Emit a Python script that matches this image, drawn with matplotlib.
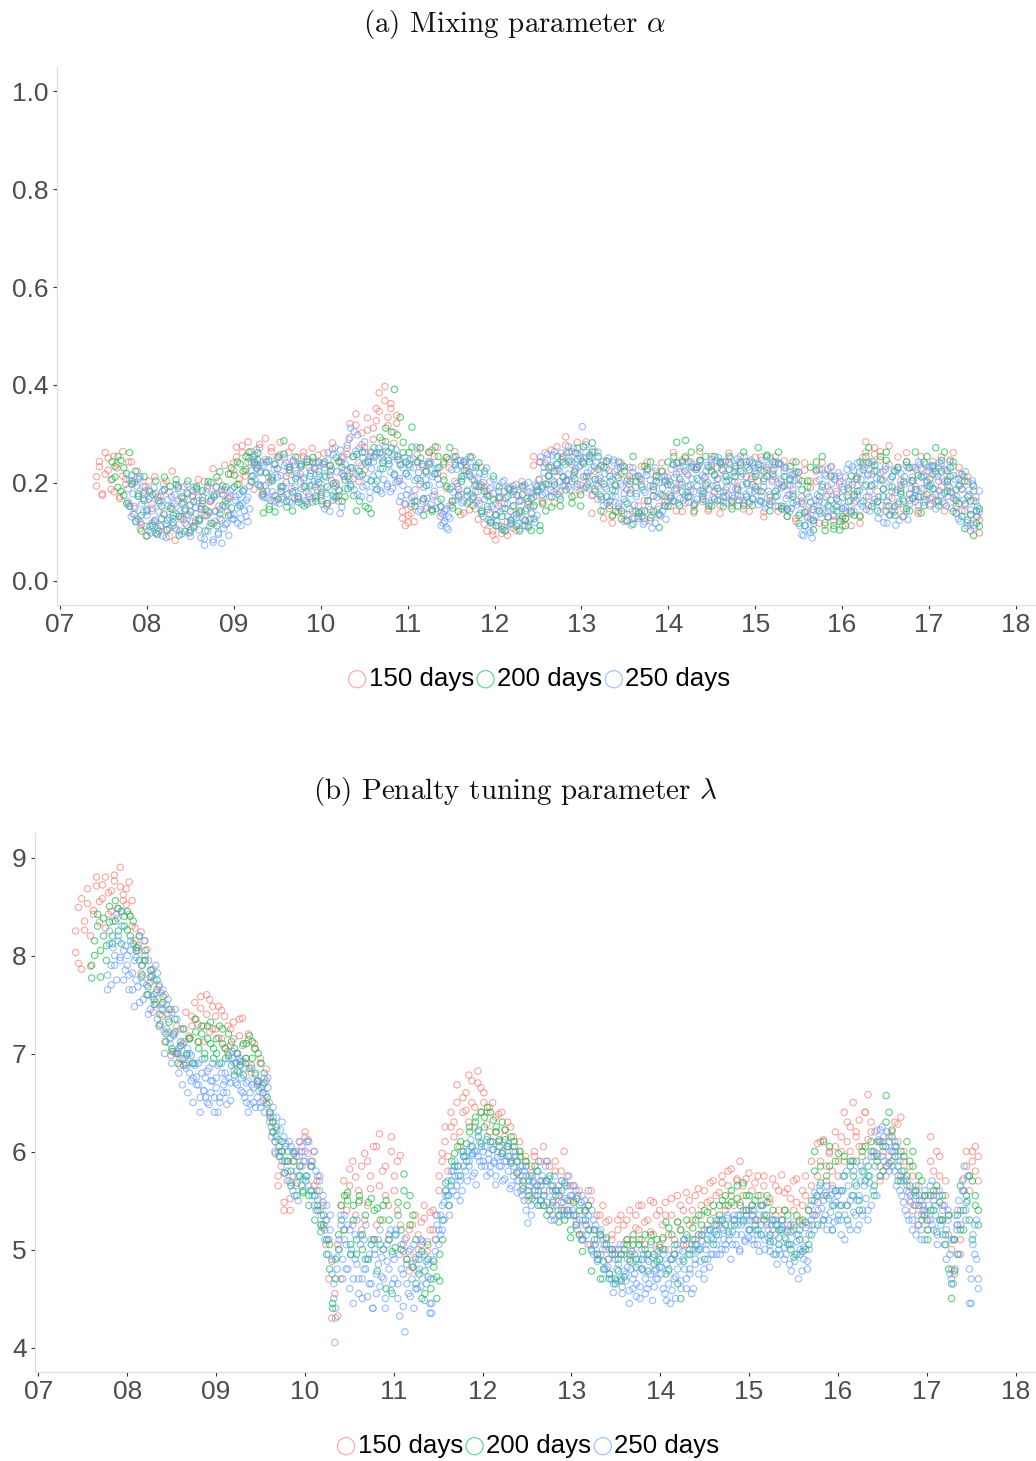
import numpy as np
import matplotlib
matplotlib.use('Agg')
import matplotlib.pyplot as plt

plt.rcParams['font.family'] = ['Liberation Sans', 'DejaVu Sans']
plt.rcParams['mathtext.fontset'] = 'cm'

W, H = 1036, 1461

year_labels = ['07', '08', '09', '10', '11', '12', '13', '14', '15', '16', '17', '18']
year_ticks = [2007 + i for i in range(12)]
window_names = ['150 days', '200 days', '250 days']
window_colors = ['#F8766D', '#00BA38', '#619CFF']
series_starts = [2007.42, 2007.60, 2007.78]
series_end = 2017.58

# mixing parameter, in thousandths, daily order
alpha_150 = [
    213, 244, 178, 262, 226, 187, 255, 231, 172, 264, 208, 243, 198, 152, 224, 121, 193,
    92, 204, 143, 213, 171, 112, 198, 104, 182, 224, 83, 163, 131, 192, 114, 155, 184, 123, 171, 146, 203, 134, 162, 117, 191, 153, 124, 186, 142, 173,
    241, 273, 208, 262, 224, 284, 203, 253, 231, 272, 183, 291, 212, 264, 174, 251, 283, 193, 242, 221, 273, 168, 252, 204, 263, 161, 232, 271, 192, 243,
    172, 261, 153, 234, 282, 194, 163, 252, 213, 271, 321, 224, 341, 203, 302, 273, 333, 254, 312, 352, 384, 287, 397, 334, 362, 303, 338, 204, 142, 113,
    134, 152, 121, 243, 272, 163, 224, 263, 146, 254, 273, 132, 214, 252, 231, 154, 264, 193, 135, 243, 224, 145, 253, 182, 164, 232, 191, 102, 173, 94,
    84, 153, 112, 183, 93, 142, 194, 103, 164, 203, 124, 181, 152, 254, 192, 243, 163, 262, 214, 231, 182, 274, 203, 253, 294, 192, 264, 221, 283, 184,
    243, 284, 212, 174, 263, 193, 234, 142, 245, 163, 132, 224, 153, 241, 122, 204, 232, 143, 213, 131, 234, 164, 243, 123, 192, 224, 152, 241, 173, 212,
    153, 262, 184, 223, 142, 254, 171, 243, 153, 232, 264, 162, 213, 143, 254, 182, 231, 154, 243, 172, 261, 153, 224, 192, 254, 164, 243, 142, 213, 252,
    204, 253, 131, 232, 163, 224, 254, 142, 203, 245, 132, 194, 243, 122, 221, 172, 241, 143, 204, 123, 224, 163, 242, 114, 193, 232, 132, 183, 214, 112,
    143, 204, 113, 172, 213, 134, 252, 284, 173, 243, 272, 162, 264, 224, 153, 276, 183, 142, 253, 204, 132, 262, 164, 232, 193, 143, 254, 172, 224, 153,
    244, 163, 204, 253, 143, 224, 182, 262, 152, 232, 204, 143, 213, 102, 184, 132, 98]

alpha_150_extra = [
    194, 233, 175, 218, 251, 206, 182, 239, 168, 214, 197, 158, 243, 136, 209, 107, 178,
    112, 186, 157, 121, 96, 173, 138, 204, 91, 147, 108, 192, 126, 168, 135, 98, 175, 118, 207, 152, 134, 188, 163, 229, 143, 204, 178, 236, 168, 218,
    226, 253, 198, 276, 214, 243, 264, 187, 236, 279, 176, 248, 201, 272, 164, 229, 258, 172, 214, 263, 189, 237, 167, 218, 254, 182, 243, 169, 228, 257,
    189, 238, 158, 216, 269, 201, 174, 243, 226, 259, 293, 209, 318, 241, 278, 226, 308, 263, 289, 327, 346, 259, 368, 317, 352, 281, 322, 247, 128, 156,
    119, 138, 173, 258, 197, 233, 148, 241, 267, 176, 219, 151, 238, 189, 248, 163, 203, 246, 177, 139, 231, 162, 208, 147, 126, 197, 116, 184, 138, 102,
    136, 168, 97, 158, 121, 187, 108, 176, 139, 192, 113, 157, 128, 236, 174, 208, 157, 241, 196, 267, 159, 224, 182, 253, 277, 206, 238, 174, 261, 196,
    212, 253, 189, 138, 224, 167, 203, 128, 231, 148, 118, 197, 141, 218, 137, 186, 214, 127, 191, 153, 207, 128, 229, 146, 174, 213, 134, 223, 161, 196,
    168, 237, 143, 198, 247, 159, 216, 186, 139, 228, 246, 172, 194, 147, 233, 168, 208, 138, 226, 186, 243, 161, 202, 174, 236, 147, 213, 158, 197, 231,
    184, 226, 141, 214, 176, 207, 238, 152, 189, 231, 147, 176, 218, 128, 207, 158, 226, 132, 191, 146, 203, 118, 227, 138, 176, 216, 122, 167, 198, 128,
    127, 182, 138, 159, 194, 118, 236, 263, 154, 218, 259, 183, 247, 206, 142, 238, 169, 153, 231, 189, 147, 243, 178, 212, 162, 138, 229, 187, 204, 168,
    218, 177, 231, 192, 158, 206, 247, 169, 138, 219, 187, 156, 203, 117, 164, 143, 124]

alpha_200 = [
    243, 212, 254, 183, 231, 158, 262, 204, 224, 173, 134, 213,
    92, 182, 113, 204, 102, 153, 212, 124, 193, 134, 207, 93, 172, 143, 204, 104, 162, 193, 123, 184, 102, 142, 201, 172, 113, 223, 154, 192, 134, 231,
    192, 243, 153, 224, 254, 263, 214, 242, 261, 223, 139, 243, 152, 212, 141, 254, 183, 286, 162, 232, 143, 253, 172, 234, 153, 243, 194, 252, 163, 224,
    164, 243, 192, 224, 173, 252, 184, 232, 172, 213, 193, 254, 143, 224, 263, 152, 243, 138, 272, 204, 293, 242, 312, 263, 304, 391, 254, 334, 283, 243,
    262, 314, 163, 243, 272, 134, 224, 263, 142, 274, 254, 152, 243, 193, 272, 163, 254, 142, 213, 243, 183, 254, 154, 232, 193, 142, 224, 173, 123, 214,
    113, 192, 132, 102, 173, 124, 183, 112, 143, 194, 123, 162, 103, 154, 183, 113, 194, 143, 232, 172, 224, 254, 153, 243, 204, 263, 172, 224, 271, 153,
    274, 213, 243, 282, 183, 254, 143, 232, 172, 213, 134, 194, 243, 143, 224, 123, 204, 254, 142, 213, 132, 234, 163, 243, 142, 204, 109, 224, 153, 243,
    172, 254, 283, 154, 243, 287, 193, 263, 143, 232, 272, 183, 254, 153, 224, 254, 164, 243, 152, 213, 254, 163, 234, 153, 224, 263, 172, 243, 154, 213,
    272, 163, 224, 254, 143, 243, 183, 263, 153, 213, 132, 234, 172, 243, 134, 204, 113, 193, 232, 124, 243, 172, 254, 103, 154, 213, 113, 143, 104, 132,
    113, 162, 214, 134, 183, 243, 163, 254, 272, 194, 224, 143, 254, 172, 263, 153, 213, 134, 232, 183, 163, 243, 143, 204, 263, 172, 213, 154, 254, 193,
    234, 272, 153, 224, 263, 183, 213, 243, 164, 194, 132, 204, 124, 163, 93, 143, 112]

alpha_200_extra = [
    208, 234, 191, 246, 175, 219, 152, 198, 121, 178, 102, 164,
    143, 112, 176, 98, 164, 127, 186, 105, 148, 119, 197, 132, 158, 101, 178, 141, 112, 189, 127, 164, 146, 203, 118, 176, 212, 137, 194, 163, 218, 149,
    216, 197, 239, 184, 228, 251, 202, 237, 248, 193, 178, 221, 146, 204, 238, 167, 193, 259, 151, 227, 182, 209, 161, 238, 192, 157, 214, 243, 173, 201,
    181, 214, 158, 236, 199, 172, 243, 163, 206, 188, 231, 174, 258, 163, 217, 241, 148, 205, 253, 187, 262, 229, 284, 246, 271, 218, 298, 237, 262, 219,
    238, 273, 153, 209, 251, 168, 195, 238, 146, 219, 231, 167, 206, 252, 188, 149, 237, 175, 203, 226, 159, 214, 172, 196, 241, 138, 183, 152, 119, 166,
    134, 171, 105, 148, 189, 118, 154, 137, 102, 176, 143, 112, 168, 127, 186, 103, 159, 198, 214, 151, 196, 238, 167, 213, 186, 243, 159, 208, 249, 176,
    239, 192, 256, 263, 207, 228, 172, 198, 244, 154, 186, 142, 211, 127, 233, 158, 179, 116, 204, 139, 192, 143, 228, 129, 186, 215, 137, 174, 203, 152,
    196, 163, 241, 208, 182, 251, 172, 233, 156, 209, 246, 167, 198, 232, 153, 217, 189, 241, 172, 203, 228, 147, 213, 186, 241, 154, 199, 227, 168, 192,
    238, 183, 209, 257, 156, 218, 172, 239, 148, 194, 146, 206, 159, 223, 118, 186, 139, 204, 161, 104, 227, 143, 192, 119, 131, 165, 106, 152, 122, 171,
    128, 189, 143, 176, 208, 131, 227, 196, 241, 152, 236, 162, 208, 188, 246, 135, 192, 224, 157, 178, 203, 148, 231, 169, 187, 216, 139, 242, 176, 208,
    188, 224, 162, 246, 179, 203, 231, 142, 186, 158, 218, 107, 172, 135, 194, 118, 147]

alpha_250 = [
    188, 154, 216, 137, 201, 122, 173, 209, 115, 168, 192,
    146, 103, 172, 118, 191, 125, 95, 158, 112, 183, 135, 89, 166, 108, 152,
    128, 176, 104, 189, 143, 96, 161, 118, 197, 135, 91, 172, 109, 149, 186,
    124, 88, 157, 73, 181, 102, 139, 168, 84, 121, 192, 98, 146, 77, 175, 115, 158, 93, 184, 127,
    135, 172, 118, 156, 128, 182, 143, 165, 121, 194, 225, 248, 208, 268, 236,
    196, 242, 171, 221, 183, 247, 165, 208, 238, 174, 229, 158, 215, 192, 251, 176, 232, 162, 205, 246, 184, 219, 168, 238, 157, 211, 193, 248, 172, 225, 161, 203, 241, 185, 216,
    176, 239, 147, 212, 262, 186, 228, 165, 272, 198, 245, 138, 219, 253, 189,
    277, 208, 312, 231, 186, 265, 298, 213, 172, 251, 284, 195, 243, 168, 262,
    214, 258, 187, 271, 229, 179, 246, 265, 198, 237, 182, 254, 216, 268, 204, 162, 238, 195, 252, 176,
    214, 247, 158, 231, 186, 273, 142, 205, 238, 167, 222, 151, 196, 241, 173, 218, 148, 208, 232, 113, 136, 121, 147, 105, 128,
    192, 252, 165, 228, 187, 246, 159, 215, 238, 174, 223, 251, 168, 205, 236, 182, 219, 143, 201, 167, 231, 125, 188, 152, 208,
    136, 194, 112, 171, 148, 205, 103, 158, 186, 124, 176, 133, 197, 118, 162,
    142, 189, 113, 168, 201, 125, 178, 151, 196, 134,
    182, 243, 176, 221, 197, 258, 172, 235, 205, 264, 188, 229, 173, 248, 211, 194, 262, 218, 247, 203, 271, 229, 192, 256, 236,
    315, 214, 278, 197, 249, 226, 268, 188, 241, 207, 176, 236, 154, 219, 188, 251, 163, 207, 242, 172, 228, 149, 198, 235, 167,
    123, 208, 147, 186, 231, 128, 172, 215, 139, 197, 116, 181, 224, 152, 206, 134, 193, 118, 171, 212, 133, 189, 154, 206, 162,
    176, 228, 163, 211, 189, 241, 168, 202, 234, 175, 219, 161, 196, 238, 182, 227, 167, 205, 243, 178,
    211, 163, 236, 187, 248, 172, 215, 195, 252, 166, 228, 181, 243, 159, 206, 237, 174, 221, 188, 249, 165, 213, 196, 254, 177, 232, 162, 208, 241, 183,
    219, 156, 237, 172, 204, 149, 228, 183, 251, 162, 213, 243, 174, 198, 238, 146, 224, 168, 197, 141, 216, 178, 205, 155, 222,
    112, 163, 92, 141, 178, 104, 126, 88, 152, 132, 176, 228, 138, 197, 159, 215, 131, 184, 234, 146, 207, 168, 221, 127, 192,
    148, 212, 174, 238, 141, 196, 226, 163, 241, 184, 207, 152, 232, 171, 218, 143, 196, 244, 167, 209,
    128, 221, 154, 187, 234, 118, 172, 208, 143, 226, 114, 186, 162, 219, 131, 198, 236, 125, 177, 205,
    168, 231, 186, 243, 172, 211, 161, 238, 194, 224,
    157, 236, 188, 219, 164, 242, 175, 208, 228, 153, 196, 244, 181, 215, 167,
    138, 209, 122, 188, 165, 223, 112, 176, 145, 198, 108, 162, 131, 184]

alpha_250_extra = [
    162, 205, 131, 178, 148, 194, 126, 213, 157, 141, 184,
    134, 167, 98, 148, 122, 178, 107, 141, 163, 92, 187, 116, 153, 129, 172, 113, 158, 137, 194, 102, 169, 126, 147, 181, 99, 155, 121, 192, 138, 164,
    104, 148, 171, 86, 133, 195, 112, 164, 79, 142, 176, 95, 128, 186, 107, 152, 118, 169, 135, 188,
    126, 164, 149, 177, 113, 159, 187, 132, 171, 147, 242, 214, 256, 229, 197, 221, 174, 237, 195, 169, 244, 206, 182, 228, 161, 212, 253, 189, 167, 235,
    201, 178, 226, 159, 243, 192, 214, 172, 233, 188, 207, 164, 249, 178, 219, 196, 231, 169, 208, 242,
    198, 156, 231, 178, 247, 142, 205, 258, 169, 223, 186, 267, 151, 214, 238, 226, 289, 197, 254, 305, 218, 176, 271, 235, 192, 263, 209, 247, 181, 229,
    243, 197, 262, 218, 184, 251, 207, 274, 193, 239, 222, 189, 258, 201, 247, 209, 173, 231, 158, 219,
    186, 233, 171, 249, 205, 162, 221, 146, 238, 191, 207, 169, 244, 156, 213, 183, 229, 162, 197, 139, 118, 143, 109, 132, 154,
    227, 181, 243, 199, 172, 236, 208, 163, 247, 186, 218, 177, 232, 195, 161, 211, 158, 194, 132, 218, 176, 146, 203, 119, 179,
    158, 121, 183, 141, 201, 109, 169, 132, 192, 115, 152, 187, 128, 174, 106, 165, 127, 196, 148, 109, 182, 137, 171, 119, 193,
    206, 253, 191, 232, 179, 247, 216, 186, 257, 202, 238, 177, 224, 261, 195, 238, 207, 274, 186, 243, 215, 261, 198, 232, 251,
    243, 189, 262, 221, 204, 252, 176, 233, 198, 263, 211, 167, 244, 192, 159, 226, 203, 172, 247, 184, 215, 158, 232, 193, 178,
    162, 136, 198, 114, 221, 155, 178, 127, 209, 143, 186, 121, 216, 164, 194, 108, 173, 231, 146, 201, 177, 142, 214, 126, 197,
    203, 172, 239, 186, 218, 159, 231, 197, 165, 224, 181, 243, 172, 208, 231, 159, 194, 236, 185, 216,
    179, 224, 201, 158, 239, 194, 167, 246, 209, 183, 237, 161, 218, 192, 176, 251, 204, 169, 229, 187, 243, 172, 219, 158, 236, 198, 183, 247, 167, 224,
    187, 231, 163, 246, 192, 158, 214, 237, 171, 203, 227, 153, 189, 241, 208, 193, 152, 231, 175, 209, 148, 186, 219, 163, 198,
    138, 95, 157, 113, 129, 171, 99, 146, 118, 165, 154, 206, 183, 143, 219, 172, 229, 151, 198, 136, 214, 177, 162, 203, 148,
    186, 151, 228, 197, 164, 233, 142, 209, 176, 222, 158, 241, 193, 146, 215, 182, 237, 159, 198, 225,
    171, 139, 205, 119, 228, 163, 192, 134, 213, 151, 181, 227, 124, 196, 168, 213, 142, 231, 157, 189, 205, 173, 226, 154, 238, 189, 214, 166, 201, 232,
    198, 171, 229, 147, 213, 184, 239, 162, 203, 226, 173, 191, 149, 234, 207, 172, 127, 196, 143, 213, 158, 119, 185, 136, 204, 114, 171, 152, 141]

# penalty tuning parameter, in hundredths, daily order
lambda_150 = [
    803, 849, 786, 826, 853, 789, 842, 871, 834, 858, 880, 842, 866, 876, 848, 890, 862,
    868, 842, 856, 828, 810, 824, 795, 806, 772, 786, 752, 768, 738, 760, 722, 745, 702, 728, 688, 710, 690, 715, 728, 735, 712, 746, 728, 760, 722, 748,
    738, 716, 744, 706, 728, 708, 732, 700, 718, 736, 690, 714, 680, 705, 672, 695, 660, 684, 650, 630, 610, 575, 600, 548, 590, 540, 575, 600, 610, 585,
    620, 612, 590, 600, 570, 575, 548, 530, 510, 488, 405, 432, 470, 520, 555, 582, 525, 574, 548, 585, 530, 590, 562, 605, 525, 618, 580, 555, 510, 600,
    575, 540, 596, 505, 490, 520, 482, 535, 500, 528, 545, 508, 538, 520, 535, 560, 590, 610, 595, 625, 615, 650, 605, 640, 660, 630, 672, 645, 682, 665,
    660, 640, 620, 650, 635, 610, 640, 622, 605, 625, 615, 590, 600, 575, 595, 560, 585, 600, 565, 590, 605, 570, 585, 545, 590, 555, 580, 540, 575, 550,
    565, 535, 515, 555, 525, 545, 560, 505, 535, 515, 545, 500, 530, 510, 495, 520, 535, 505, 530, 490, 510, 535, 520, 545, 505, 530, 550, 515, 535, 505,
    525, 548, 500, 535, 510, 555, 520, 540, 505, 550, 530, 555, 515, 545, 560, 525, 550, 570, 530, 558, 575, 540, 565, 582, 545, 570, 590, 555, 572, 540,
    560, 530, 575, 545, 565, 528, 552, 572, 535, 560, 576, 540, 562, 525, 570, 548, 530, 560, 575, 540, 565, 535, 608, 590, 612, 570, 598, 580, 620, 590,
    600, 640, 610, 625, 590, 615, 632, 605, 640, 658, 630, 600, 622, 585, 610, 575, 595, 620, 600, 628, 635, 590, 570, 550, 575, 545, 565, 535, 555, 530,
    615, 580, 560, 595, 545, 570, 535, 500, 475, 525, 510, 572, 600, 560, 590, 605, 570]

lambda_150_extra = [
    825, 792, 858, 835, 868, 820, 846, 880, 855, 872, 828, 864, 845, 882, 838, 870, 856,
    852, 875, 830, 815, 805, 782, 815, 760, 778, 742, 762, 728, 750, 712, 740, 698, 720, 700, 695, 725, 742, 718, 738, 752, 730, 758, 712, 740, 755, 725,
    725, 748, 715, 738, 702, 725, 715, 690, 735, 708, 695, 720, 688, 710, 668, 690, 652, 672, 638, 620, 598, 565, 585, 540, 570, 552, 590, 565, 595, 605,
    615, 598, 585, 565, 560, 540, 522, 505, 470, 430, 455, 505, 545, 570, 540, 565, 590, 535, 560, 520, 598, 545, 575, 510, 605, 565, 530, 585, 545, 615,
    560, 590, 525, 498, 512, 478, 525, 492, 515, 505, 532, 498, 520, 540, 510, 575, 598, 625, 580, 640, 630, 668, 620, 655, 642, 678, 650, 625, 670, 640,
    650, 628, 645, 610, 620, 638, 598, 615, 630, 590, 600, 578, 610, 565, 590, 550, 578, 595, 555, 570, 545, 590, 560, 535, 580, 565, 548, 600, 540, 565,
    550, 528, 560, 515, 540, 505, 550, 520, 495, 535, 510, 528, 490, 515, 500, 530, 495, 525, 510, 540, 498, 522, 545, 510, 528, 495, 518, 548, 500, 540,
    510, 535, 515, 552, 495, 528, 545, 505, 558, 525, 540, 510, 562, 535, 520, 548, 568, 538, 555, 525, 568, 545, 580, 555, 530, 572, 548, 565, 540, 578,
    545, 568, 530, 555, 575, 535, 548, 520, 565, 540, 530, 558, 520, 552, 540, 572, 528, 545, 555, 525, 590, 550, 575, 610, 555, 585, 600, 565, 605, 575,
    615, 590, 630, 600, 650, 620, 605, 595, 640, 612, 620, 595, 610, 570, 600, 585, 615, 590, 630, 610, 575, 600, 560, 585, 540, 560, 525, 550, 540, 520,
    590, 555, 600, 575, 530, 555, 515, 480, 510, 540, 495, 560, 585, 575, 600, 580, 595]

lambda_200 = [
    777, 800, 842, 778, 820, 795, 834, 812, 856, 825, 845, 830,
    826, 840, 812, 805, 820, 790, 795, 768, 785, 755, 775, 740, 752, 720, 745, 705, 735, 690, 712, 688, 700, 715, 690, 722, 705, 728, 695, 715, 732, 705,
    700, 728, 710, 695, 720, 688, 705, 682, 692, 678, 710, 718, 695, 705, 672, 690, 670, 655, 640, 630, 625, 605, 610, 590, 600, 580, 590, 568, 585, 560,
    570, 545, 585, 555, 540, 525, 535, 510, 505, 445, 470, 500, 530, 555, 558, 495, 545, 510, 550, 500, 535, 490, 552, 510, 542, 505, 545, 460, 530, 498,
    502, 548, 520, 577, 490, 555, 535, 510, 475, 498, 455, 490, 470, 488, 450, 468, 510, 560, 545, 570, 585, 605, 575, 600, 590, 620, 605, 630, 615, 640,
    625, 645, 610, 632, 620, 605, 630, 612, 595, 615, 605, 590, 600, 570, 585, 555, 575, 560, 580, 550, 545, 570, 540, 565, 555, 535, 560, 530, 550, 520,
    548, 525, 540, 510, 530, 545, 500, 520, 490, 515, 480, 505, 470, 495, 470, 490, 468, 500, 510, 495, 515, 490, 505, 480, 515, 495, 508, 485, 510, 490,
    500, 528, 480, 515, 495, 528, 450, 510, 530, 500, 522, 505, 535, 515, 540, 510, 530, 545, 515, 535, 550, 525, 545, 560, 530, 552, 535, 568, 540, 555,
    535, 550, 520, 545, 530, 555, 515, 540, 525, 505, 530, 512, 535, 500, 525, 495, 520, 530, 500, 540, 515, 600, 555, 585, 530, 575, 605, 545, 590, 535,
    560, 595, 545, 585, 575, 590, 550, 580, 605, 575, 600, 565, 590, 610, 580, 657, 640, 622, 605, 585, 570, 595, 575, 590, 600, 560, 575, 530, 555, 520,
    555, 540, 565, 530, 555, 515, 535, 450, 478, 495, 520, 540, 555, 530, 570, 545, 525]

lambda_200_extra = [
    790, 815, 830, 805, 838, 810, 850, 820, 835, 848, 812, 840,
    845, 820, 835, 808, 795, 780, 805, 760, 778, 750, 765, 730, 758, 712, 732, 702, 722, 700, 708, 725, 698, 716, 690, 735, 712, 720, 700, 728, 710, 695,
    715, 690, 725, 705, 698, 712, 678, 700, 688, 710, 695, 685, 712, 680, 700, 665, 680, 648, 635, 620, 615, 595, 600, 578, 590, 565, 598, 555, 575, 558,
    575, 555, 560, 530, 545, 518, 525, 495, 480, 440, 490, 515, 545, 520, 550, 505, 530, 495, 555, 515, 490, 548, 505, 540, 478, 530, 500, 550, 510, 455,
    515, 535, 500, 560, 545, 525, 482, 465, 490, 450, 478, 505, 460, 482, 472, 495, 530, 568, 555, 590, 598, 585, 610, 595, 608, 625, 598, 635, 622, 608,
    635, 615, 640, 602, 625, 612, 598, 622, 605, 588, 610, 578, 595, 562, 590, 570, 552, 585, 545, 565, 555, 535, 575, 548, 560, 528, 540, 568, 535, 512,
    535, 552, 515, 498, 540, 520, 478, 510, 495, 470, 488, 512, 475, 500, 465, 478, 495, 472, 505, 488, 505, 482, 510, 490, 500, 478, 515, 495, 488, 502,
    512, 475, 522, 490, 505, 465, 520, 488, 515, 495, 510, 530, 500, 525, 490, 538, 520, 505, 525, 545, 530, 555, 518, 548, 525, 565, 545, 530, 555, 520,
    545, 525, 555, 515, 535, 548, 508, 530, 495, 520, 520, 540, 505, 518, 492, 535, 510, 498, 528, 505, 550, 580, 525, 568, 610, 555, 585, 520, 560, 598,
    545, 575, 530, 590, 555, 565, 540, 600, 570, 585, 610, 555, 595, 575, 605, 630, 588, 615, 595, 570, 600, 580, 610, 565, 585, 555, 545, 570, 535, 510,
    540, 560, 518, 548, 530, 505, 480, 465, 510, 535, 565, 520, 548, 575, 510, 555, 540]

lambda_250 = [
    765, 812, 790, 835, 800, 775, 820, 795, 845, 805, 785,
    800, 780, 815, 765, 795, 775, 808, 752, 790, 772, 815, 760, 795, 745, 780, 760, 790, 735, 770, 745,
    765, 722, 750, 735, 710, 742, 720, 700, 735, 705, 725, 695, 712, 688, 705, 680, 698, 675, 690, 668,
    690, 655, 680, 662, 675, 650, 685, 660, 672, 655,
    665, 688, 650, 680, 660, 672, 648, 695, 670, 702, 682, 690, 668, 695, 675, 660, 685, 650, 672, 648,
    668, 650, 678, 655, 670, 645, 660, 675, 650, 665, 640, 625, 645, 610, 635, 600, 622, 590, 615, 605,
    580, 610, 568, 600, 555, 595, 575, 610, 565, 590,
    600, 575, 610, 560, 590, 545, 580, 550, 570, 535, 555, 520, 545, 510, 535, 490, 465, 440, 480, 500,
    525, 490, 535, 505, 480, 520, 495, 470, 515, 485, 455, 505, 470, 510, 480, 452, 495, 465, 440, 500,
    475, 510, 462, 492, 470, 450, 505, 480, 520, 465,
    490, 515, 465, 432, 505, 475, 416, 485, 455, 500, 470, 440, 490, 460, 480, 510, 470, 495, 465, 485,
    435, 445, 490, 510, 525, 505, 535, 520, 548, 555, 570, 545, 580, 560, 590, 565, 575, 550, 600, 585,
    595, 570, 590, 605, 575, 600, 566, 595, 610, 585,
    590, 605, 575, 598, 585, 610, 590, 575, 600, 585, 595, 570, 590, 605, 580, 595, 565, 585, 595, 570,
    580, 560, 585, 550, 575, 527, 565, 545, 570, 555, 580, 560, 545, 575, 555, 570, 590, 540, 565, 550,
    530, 560, 540, 555, 570, 535, 552, 565, 540, 555,
    555, 535, 560, 520, 545, 510, 530, 550, 515, 535, 505, 540, 495, 525, 510, 490, 520, 500, 480, 510,
    490, 475, 500, 465, 490, 480, 500, 470, 455, 495, 475, 490, 458, 480, 470, 495, 465, 485, 450, 480,
    495, 470, 460, 488, 475, 492, 462, 480, 470, 490,
    475, 495, 455, 485, 465, 445, 490, 470, 450, 480, 500, 460, 490, 510, 470, 495, 480, 505, 460, 490,
    505, 475, 500, 515, 480, 505, 490, 520, 495, 510, 525, 495, 515, 530, 500, 520, 505, 535, 510, 525,
    505, 530, 515, 535, 500, 525, 540, 510, 530, 520,
    530, 510, 540, 520, 505, 535, 515, 545, 500, 525, 520, 505, 530, 495, 515, 525, 500, 520, 530, 490,
    510, 525, 485, 505, 520, 495, 515, 470, 500, 525, 490, 510, 480, 500, 530, 535, 520, 555, 540, 560,
    525, 550, 535, 565, 530, 555, 520, 545, 560, 530,
    560, 530, 575, 510, 545, 565, 520, 555, 580, 535, 550, 525, 570, 540, 565, 590, 530, 575, 545, 600,
    585, 555, 610, 622, 595, 615, 605, 585, 610, 590, 600, 580, 605, 575, 590, 555, 570, 540, 565, 530,
    555, 520, 545, 565, 525, 550, 510, 540, 560, 530,
    545, 565, 525, 550, 535, 505, 560, 530, 515, 545, 520, 540, 495, 470, 510, 480, 525, 495, 540, 560,
    585, 530, 550, 445, 470, 505, 525, 490, 460]

lambda_250_extra = [
    780, 825, 770, 808, 790, 842, 815, 798, 830, 775, 810,
    790, 765, 805, 782, 748, 798, 768, 820, 778, 755, 800, 770, 740, 785, 758, 775, 750, 782, 728, 762, 745, 700, 725, 755, 715, 690, 718, 745, 702, 680,
    708, 668, 695, 685, 660, 700, 672, 650, 688, 676, 668, 640, 694, 662, 655, 682, 648, 672, 690, 640,
    675, 640, 655, 690, 668, 680, 660, 675, 652, 695, 690, 670, 700, 680, 662, 692, 655, 670, 640, 660, 685, 665, 645, 672, 662, 650, 668, 640, 658, 675,
    630, 615, 635, 600, 622, 612, 595, 630, 578, 608, 590, 570, 605, 560, 600, 580, 550, 585, 600, 572,
    590, 610, 565, 585, 555, 600, 540, 575, 560, 525, 545, 510, 530, 495, 520, 475, 450, 430, 492, 510, 535, 470, 510, 480, 525, 460, 500, 445, 490, 530,
    470, 515, 450, 480, 525, 490, 465, 510, 440, 495, 455, 485, 520, 472, 500, 440, 488, 515, 458, 495,
    470, 520, 450, 495, 480, 442, 510, 465, 498, 452, 485, 505, 460, 478, 495, 462, 508, 448, 488, 472, 445, 435, 470, 498, 535, 520, 515, 545, 530, 560,
    555, 535, 565, 580, 575, 555, 585, 570, 560, 595, 580, 600, 585, 612, 596, 578, 600, 620, 590, 605,
    600, 585, 612, 592, 578, 602, 588, 566, 594, 610, 585, 600, 572, 590, 608, 562, 590, 575, 600, 558, 570, 585, 555, 580, 540, 560, 575, 535, 568, 550,
    565, 590, 550, 570, 560, 585, 548, 572, 530, 560, 575, 545, 560, 535, 570, 548, 565, 540, 575, 535,
    540, 565, 525, 555, 530, 548, 510, 538, 525, 560, 520, 498, 530, 505, 488, 518, 495, 470, 505, 480, 482, 500, 470, 456, 495, 468, 485, 505, 462, 478,
    468, 482, 445, 498, 460, 475, 452, 490, 462, 500, 478, 455, 490, 465, 505, 448, 478, 470, 498, 482,
    482, 460, 500, 448, 478, 490, 458, 495, 472, 505, 488, 468, 498, 480, 460, 512, 475, 455, 500, 485, 498, 515, 488, 508, 470, 500, 520, 482, 512, 495,
    518, 505, 530, 495, 522, 510, 500, 532, 515, 490, 518, 535, 505, 525, 498, 515, 528, 508, 535, 512,
    520, 540, 505, 530, 515, 498, 525, 545, 510, 535, 512, 498, 525, 508, 530, 485, 512, 495, 522, 502, 495, 518, 505, 478, 528, 488, 508, 515, 495, 478,
    502, 522, 488, 515, 545, 525, 558, 535, 548, 565, 542, 530, 558, 520, 552, 538, 562, 528, 548, 555,
    545, 515, 560, 535, 580, 525, 550, 590, 538, 568, 520, 555, 585, 535, 578, 552, 540, 568, 595, 560, 620, 598, 612, 575, 625, 590, 605, 620, 580, 600,
    585, 610, 565, 595, 560, 580, 548, 572, 535, 558, 548, 530, 558, 515, 535, 555, 520, 545, 510, 538,
    555, 530, 570, 520, 545, 515, 555, 525, 540, 505, 490, 530, 475, 510, 465, 535, 520, 550, 525, 570, 560, 540, 575, 480, 445, 515, 495, 530, 470]


def draw_panel(rect, x0_px, year_px, y_ticks, y_labels, ylim, series, scale, title, title_y, legend_x, legend_y):
    left, top, right, bottom = rect
    ax = fig.add_axes([left / W, 1 - bottom / H, (right - left) / W, (bottom - top) / H])
    handles = []
    for passes, start, color, name in zip(series, series_starts, window_colors, window_names):
        y = np.concatenate([np.array(p) / scale for p in passes])
        x = np.concatenate([np.linspace(start, series_end, len(p)) for p in passes])
        sc = ax.scatter(x, y, s=21, facecolors='none', edgecolors=color, linewidths=0.8, alpha=0.65, label=name)
        handles.append(sc)
    ax.set_xlim(2007 - (x0_px - left) / year_px, 2007 + (right - x0_px) / year_px)
    ax.set_ylim(*ylim)
    ax.set_xticks(year_ticks)
    ax.set_xticklabels(year_labels)
    ax.set_yticks(y_ticks)
    ax.set_yticklabels(y_labels)
    ax.tick_params(axis='both', labelsize=19, labelcolor='#4d4d4d', color='#333333', length=2.6, width=0.8, pad=3)
    ax.spines['top'].set_visible(False)
    ax.spines['right'].set_visible(False)
    ax.spines['left'].set_color('#dcdcdc')
    ax.spines['bottom'].set_color('#dcdcdc')
    fig.text(515 / W, 1 - title_y / H, title, family='cmr10', fontsize=20.9, ha='center', va='center', color='#111111')
    fig.legend(handles=handles, loc='center', bbox_to_anchor=(legend_x / W, 1 - legend_y / H), ncol=3, frameon=False,
               fontsize=18.6, markerscale=2.7, columnspacing=0.0, handletextpad=0.0, handlelength=0.9, borderpad=0, borderaxespad=0)


fig = plt.figure(figsize=(W / 100, H / 100), dpi=100)

draw_panel((56.5, 67, W, 605), 60, 86.9, [0.0, 0.2, 0.4, 0.6, 0.8, 1.0], ['0.0', '0.2', '0.4', '0.6', '0.8', '1.0'],
           (-0.049, 1.049), [(alpha_150, alpha_150_extra), (alpha_200, alpha_200_extra), (alpha_250, alpha_250_extra)], 1000.0,
           r'(a) Mixing parameter $\alpha$', 24, 538, 679)
draw_panel((34.5, 833, W, 1372), 38.3, 88.85, [4, 5, 6, 7, 8, 9], ['4', '5', '6', '7', '8', '9'],
           (3.75, 9.25), [(lambda_150, lambda_150_extra), (lambda_200, lambda_200_extra), (lambda_250, lambda_250_extra)], 100.0,
           r'(b) Penalty tuning parameter $\lambda$', 791, 527, 1446)

fig.savefig('out.png', dpi=100)
